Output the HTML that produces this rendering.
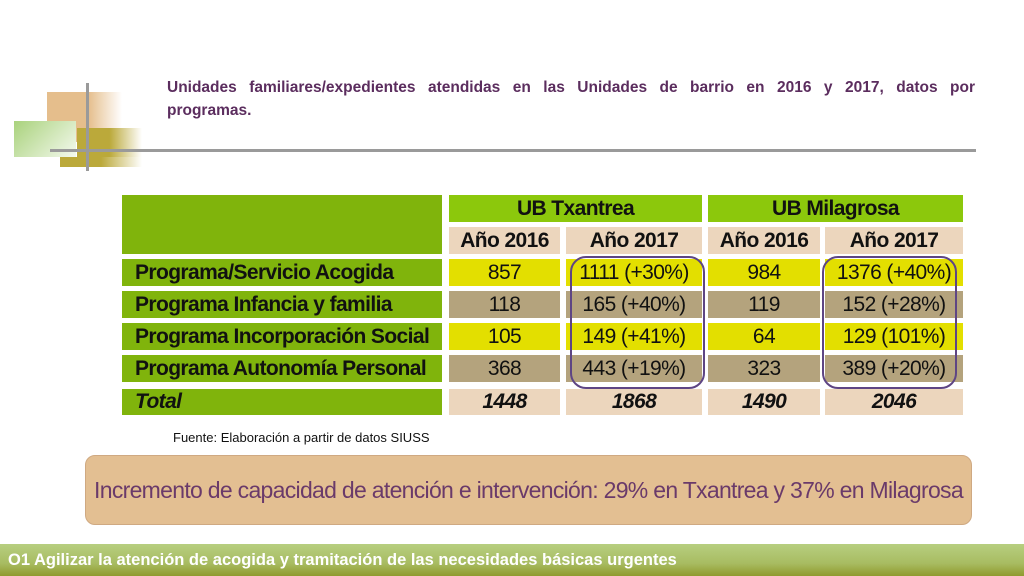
<!DOCTYPE html>
<html><head><meta charset="utf-8">
<style>
body{margin:0;width:1024px;height:576px;position:relative;background:#fff;overflow:hidden;font-family:"Liberation Sans",sans-serif}
.a{position:absolute}
.c{position:absolute;display:flex;align-items:center;justify-content:center;font-size:21px;color:#111;letter-spacing:-0.6px;height:27px}
.l{justify-content:flex-start;padding-left:13px;box-sizing:border-box;font-weight:bold;background:#80b40c}
.y{background:#e3df00}.t{background:#b4a37d}.b{background:#ecd6bd}
.h{font-weight:bold}
.box{position:absolute;border:2px solid #5e4584;border-radius:16px;box-sizing:border-box}
</style></head><body>
<div>
<div class="a" style="left:47px;top:92px;width:75px;height:50px;background:linear-gradient(90deg,#e5be8c 55%,#fff)"></div>
<div class="a" style="left:14px;top:121px;width:62px;height:36px;background:linear-gradient(135deg,#a9d27c,#f4f9ee)"></div>
<div class="a" style="left:77px;top:128px;width:65px;height:30px;background:linear-gradient(90deg,#bba93a 50%,#fff)"></div>
<div class="a" style="left:60px;top:157px;width:82px;height:10px;background:linear-gradient(90deg,#bba93a 50%,#fff)"></div>
<div class="a" style="left:86px;top:83px;width:3px;height:88px;background:#9a9a9a"></div>
<div class="a" style="left:50px;top:149px;width:926px;height:3px;background:#9a9a9a"></div>
</div>
<div class="a" style="left:167px;top:76px;width:808px;font-size:15.5px;font-weight:bold;color:#5b2d5e;line-height:23px">
<div style="text-align:justify;text-align-last:justify">Unidades familiares/expedientes atendidas en las Unidades de barrio en 2016 y 2017, datos por</div>
<div>programas.</div>
</div>

<div>
<div class="c" style="left:122px;top:195px;width:320px;height:59px;background:#80b40c"></div>
<div class="c h" style="left:449px;top:195px;width:253px;background:#8cc80c">UB Txantrea</div>
<div class="c h" style="left:708px;top:195px;width:255px;background:#8cc80c">UB Milagrosa</div>
<div class="c h b" style="left:449px;top:227px;width:111px">Año 2016</div>
<div class="c h b" style="left:566px;top:227px;width:136px">Año 2017</div>
<div class="c h b" style="left:708px;top:227px;width:112px">Año 2016</div>
<div class="c h b" style="left:825px;top:227px;width:138px">Año 2017</div>

<div class="c l" style="left:122px;top:259px;width:320px">Programa/Servicio Acogida</div>
<div class="c y" style="left:449px;top:259px;width:111px">857</div>
<div class="c y" style="left:566px;top:259px;width:136px">1111 (+30%)</div>
<div class="c y" style="left:708px;top:259px;width:112px">984</div>
<div class="c y" style="left:825px;top:259px;width:138px">1376 (+40%)</div>

<div class="c l" style="left:122px;top:291px;width:320px">Programa Infancia y familia</div>
<div class="c t" style="left:449px;top:291px;width:111px">118</div>
<div class="c t" style="left:566px;top:291px;width:136px">165 (+40%)</div>
<div class="c t" style="left:708px;top:291px;width:112px">119</div>
<div class="c t" style="left:825px;top:291px;width:138px">152 (+28%)</div>

<div class="c l" style="left:122px;top:323px;width:320px">Programa Incorporación Social</div>
<div class="c y" style="left:449px;top:323px;width:111px">105</div>
<div class="c y" style="left:566px;top:323px;width:136px">149 (+41%)</div>
<div class="c y" style="left:708px;top:323px;width:112px">64</div>
<div class="c y" style="left:825px;top:323px;width:138px">129 (101%)</div>

<div class="c l" style="left:122px;top:355px;width:320px">Programa Autonomía Personal</div>
<div class="c t" style="left:449px;top:355px;width:111px">368</div>
<div class="c t" style="left:566px;top:355px;width:136px">443 (+19%)</div>
<div class="c t" style="left:708px;top:355px;width:112px">323</div>
<div class="c t" style="left:825px;top:355px;width:138px">389 (+20%)</div>

<div class="c l" style="left:122px;top:389px;width:320px;height:26px;font-style:italic">Total</div>
<div class="c b h" style="left:449px;top:389px;width:111px;height:26px;font-style:italic">1448</div>
<div class="c b h" style="left:566px;top:389px;width:136px;height:26px;font-style:italic">1868</div>
<div class="c b h" style="left:708px;top:389px;width:112px;height:26px;font-style:italic">1490</div>
<div class="c b h" style="left:825px;top:389px;width:138px;height:26px;font-style:italic">2046</div>

<div class="box" style="left:570px;top:256px;width:135px;height:133px"></div>
<div class="box" style="left:822px;top:256px;width:135px;height:133px"></div>
</div>

<div class="a" style="left:173px;top:430px;font-size:13px;color:#111">Fuente: Elaboración a partir de datos SIUSS</div>

<div class="a" style="left:85px;top:455px;width:887px;height:70px;background:#e3bf92;border:1px solid #cfa982;border-radius:10px;box-sizing:border-box;display:flex;align-items:center;justify-content:center;color:#6a3a6a;font-size:23px;letter-spacing:-0.7px">Incremento de capacidad de atención e intervención: 29% en Txantrea y 37% en Milagrosa</div>

<div class="a" style="left:0;top:544px;width:1024px;height:32px;background:linear-gradient(180deg,#b7cf80,#a8bc62 60%,#8f9a2e);color:#fff;font-weight:bold;font-size:16.5px;line-height:32px;padding-left:8px;box-sizing:border-box">O1 Agilizar la atención de acogida y tramitación de las necesidades básicas urgentes</div>
</body></html>
